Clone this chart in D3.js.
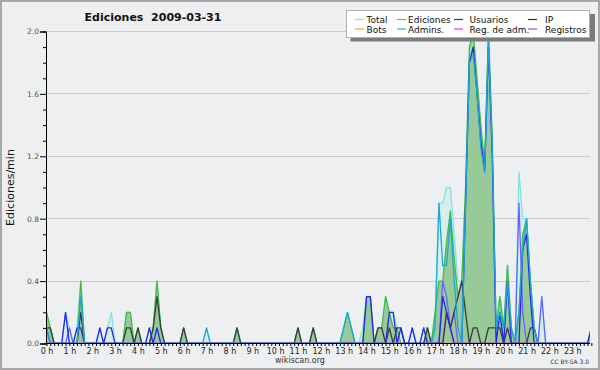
<!DOCTYPE html>
<html><head><meta charset="utf-8">
<script src="https://cdn.jsdelivr.net/npm/d3@7"></script>
<style>
html,body{margin:0;padding:0;background:#eeeff1;}
svg{display:block;font-family:"DejaVu Sans",sans-serif;}
</style></head><body>
<svg id="c" width="600" height="370"></svg>
<script>
// ---- data: one value per 10 minutes (6 per hour), edits per minute ----
const hourLabels = d3.range(24).map(h => h + " h");
const yTicks = [0, 0.4, 0.8, 1.2, 1.6, 2.0];

const total = [
 .2,.1,0,0,0,.2,   .1,0,.1,.4,0,0,   0,0,.1,0,.1,.2,   0,0,0,.2,.2,0,
 .1,0,0,.1,.1,.4,  .1,0,0,0,0,0,     .1,0,0,0,0,0,     .1,0,0,0,0,0,
 0,0,.1,0,0,0,     0,0,0,0,0,0,      0,0,0,0,0,0,      .1,0,0,0,.1,0,
 0,0,0,0,0,0,      .1,.2,.1,0,0,.1,  .3,.3,0,.1,.1,.3, .2,.2,.1,.1,0,0,
 .1,0,0,.1,.1,0,   .2,.9,.9,1.0,1.0,.7, .4,.4,1.0,1.85,1.95,1.65, 1.35,1.1,2.0,1.3,.1,.3,
 .1,.5,.1,0,1.1,.8, .8,.4,.1,0,.3,0, 0,0,0,0,0,0,      0,0,0,0,0,.1];

const ediciones = [
 .2,.1,0,0,0,0,    0,0,0,.4,0,0,     0,0,0,0,0,0,      0,0,0,.2,.2,0,
 .1,0,0,0,.1,.4,   .1,0,0,0,0,0,     .1,0,0,0,0,0,     0,0,0,0,0,0,
 0,0,.1,0,0,0,     0,0,0,0,0,0,      0,0,0,0,0,0,      .1,0,0,0,.1,0,
 0,0,0,0,0,0,      .1,.2,.1,0,0,0,   .3,.3,0,.1,.1,.3, .2,.1,.1,0,0,0,
 0,0,0,0,.1,0,     .2,.4,.4,.65,.85,.55, .3,.4,1.0,1.9,2.0,1.7, 1.4,1.15,2.0,1.3,.1,.3,
 .1,.5,.1,0,.2,.7, .8,.4,.1,0,0,0,   0,0,0,0,0,0,      0,0,0,0,0,.1];

const usuarios = [
 .1,0,0,0,0,.2,    0,0,.1,.1,0,0,    0,0,.1,0,.1,.1,   0,0,0,0,0,0,
 0,0,0,.1,0,.1,    0,0,0,0,0,0,      0,0,0,0,0,0,      0,0,0,0,0,0,
 0,0,0,0,0,0,      0,0,0,0,0,0,      0,0,0,0,0,0,      0,0,0,0,0,0,
 0,0,0,0,0,0,      0,0,0,0,0,0,      .3,.3,0,0,0,0,    .2,.2,0,.1,0,0,
 .1,0,0,.1,0,0,    0,0,.3,.2,.1,0,   0,0,.9,1.8,1.9,1.6, 1.3,1.1,1.9,1.2,0,.2,
 0,.4,0,0,0,.6,    .7,.3,0,0,0,0,    0,0,0,0,0,0,      0,0,0,0,0,.1];

const ip = [
 .1,.1,0,0,0,0,    0,0,0,.2,0,0,     0,0,0,0,0,0,      0,0,0,.1,.1,0,
 .1,0,0,0,.1,.3,   .1,0,0,0,0,0,     .1,0,0,0,0,0,     0,0,0,0,0,0,
 0,0,.1,0,0,0,     0,0,0,0,0,0,      0,0,0,0,0,0,      .1,0,0,0,.1,0,
 0,0,0,0,0,0,      0,0,0,0,0,0,      0,0,0,.1,.1,0,    .1,0,.1,.1,0,0,
 0,0,0,0,.1,0,     0,0,0,.2,.1,.2,   .3,.4,.2,0,.1,.1, 0,0,.1,.1,.1,.1,
 0,.1,0,0,0,0,     0,.1,.1,0,0,0,    0,0,0,0,0,0,      0,0,0,0,0,0];

const bots = new Array(144).fill(0);

const admins = [
 .1,0,0,0,0,0,     0,0,0,.3,0,0,     0,0,0,0,0,0,      0,0,0,0,0,0,
 0,0,0,0,0,0,      0,0,0,0,0,0,      0,0,0,0,0,0,      .1,0,0,0,0,0,
 0,0,0,0,0,0,      0,0,0,0,0,0,      0,0,0,0,0,0,      0,0,0,0,0,0,
 0,0,0,0,0,0,      .1,.2,.1,0,0,0,   0,0,0,0,0,0,      0,0,0,0,0,0,
 0,0,0,0,0,0,      .1,.9,.5,.5,.8,.4, .1,0,.9,1.8,1.85,1.6, 1.25,1.1,1.95,1.25,.1,.2,
 .1,.4,.1,0,.2,.6, .8,.4,.1,0,0,0,   0,0,0,0,0,0,      0,0,0,0,0,0];

const regAdm = [
 0,0,0,0,0,0, 0,0,0,0,0,0, 0,0,0,0,0,0, 0,0,0,0,0,0,
 0,0,0,0,0,0, 0,0,0,0,0,0, 0,0,0,0,0,0, 0,0,0,0,0,0,
 0,0,0,0,0,0, 0,0,0,0,0,0, 0,0,0,0,0,0, 0,0,0,0,0,0,
 0,0,0,0,0,0, 0,0,0,0,0,0, 0,0,0,0,0,0, 0,0,0,0,0,0,
 0,0,0,0,0,0, 0,0,0,.2,.1,0, 0,0,0,0,0,0, 0,0,0,0,0,0,
 0,0,0,0,0,0, 0,0,0,0,0,0, 0,0,0,0,0,0, 0,0,0,0,0,0];

const registros = [
 0,0,0,0,0,0, .1,0,0,0,0,0, 0,0,0,0,0,0, 0,0,0,0,0,0,
 0,0,0,0,0,0, 0,0,0,0,0,0, 0,0,0,0,0,0, 0,0,0,0,0,0,
 0,0,0,0,0,0, 0,0,0,0,0,0, 0,0,0,0,0,0, 0,0,0,0,0,0,
 0,0,0,0,0,0, 0,0,0,0,0,0, 0,0,0,0,0,0, 0,0,0,0,0,0,
 0,0,0,0,0,0, 0,0,.4,.3,.1,.2, 0,0,0,0,0,0, 0,0,0,0,0,0,
 0,0,0,0,.9,.2, 0,0,0,0,.3,0, 0,0,0,0,0,0, 0,0,0,0,0,0];

const legendItems = [
 {name:"Total", color:"#86e2e2"}, {name:"Ediciones", color:"#55c455"},
 {name:"Usuarios", color:"#2424ee"}, {name:"IP", color:"#333333"},
 {name:"Bots", color:"#ffa41c"}, {name:"Admins.", color:"#22b4e0"},
 {name:"Reg. de adm.", color:"#d040f0"}, {name:"Registros", color:"#6a62ff"}
];

// ---- drawing ----
const svg = d3.select("#c");
svg.append("rect").attr("x",1).attr("y",1).attr("width",598).attr("height",368)
  .attr("fill","#eeeff1").attr("stroke","#a8a8a8").attr("stroke-width",2);

const x = d3.scaleLinear().domain([0,143]).range([46.5, 46.5 + 3.81*143]);
const y = d3.scaleLinear().domain([0,2]).range([343.5, 31.5]);
const left = 46, right = 590;

// grid
svg.append("g").selectAll("line").data(yTicks.filter(d=>d>0)).join("line")
  .attr("x1",left).attr("x2",right)
  .attr("y1",d=>Math.round(y(d)-0.5)+0.5).attr("y2",d=>Math.round(y(d)-0.5)+0.5)
  .attr("stroke","#cdcdcd").attr("stroke-width",1);

svg.append("clipPath").attr("id","plot").append("rect")
  .attr("x",left).attr("y",28).attr("width",right-left).attr("height",343-28);

const g = svg.append("g").attr("clip-path","url(#plot)");
const idx = d3.range(144);
const area = arr => d3.area().x(i=>x(i)).y0(y(0)).y1(i=>y(arr[i]))(idx);
const line = arr => d3.line().x(i=>x(i)).y(i=>y(arr[i]))(idx);

g.append("path").attr("d",area(total)).attr("fill","#d6efec");
g.append("path").attr("d",area(ediciones)).attr("fill","#98ca98");

const series = [
 [total,"#86e2e2"], [ediciones,"#44bb44"], [bots,"#ffa41c"],
 [registros,"#6a62ff"], [regAdm,"#d040f0"], [ip,"#3a3a3a"],
 [usuarios,"#2424ee"], [admins,"#1ea6da"]
];
series.forEach(([arr,c]) => {
  g.append("path").attr("d",line(arr)).attr("fill","none")
   .attr("stroke",c).attr("stroke-width",1.3).attr("stroke-linejoin","round");
});

// axes
const yAxis = svg.append("g").attr("transform","translate(46,0)");
yAxis.call(d3.axisLeft(y).tickValues(d3.range(0,21).map(d=>d/10).filter(d=>Math.round(d*10)%4!==0))
  .tickSize(3).tickFormat(""));
yAxis.append("g").call(d3.axisLeft(y).tickValues(yTicks).tickSize(6).tickPadding(1).tickFormat(d3.format(".1f")));
yAxis.selectAll("text").attr("font-size",7.5).attr("fill","#555").attr("font-family","DejaVu Sans");
yAxis.selectAll(".domain").attr("stroke","#000");

const xAxis = svg.append("g").attr("transform","translate(0,343)");
xAxis.call(d3.axisBottom(x).tickValues(idx.filter(i=>i%6!==0)).tickSize(3).tickFormat(""));
xAxis.append("g").call(d3.axisBottom(x).tickValues(d3.range(0,144,6)).tickSize(3).tickPadding(2)
  .tickFormat(i=>hourLabels[i/6]));
xAxis.selectAll(".domain").attr("d","M46,0.5H590").attr("stroke","#000");
xAxis.selectAll("text").attr("font-size",8).attr("fill","#222").attr("font-family","DejaVu Sans");

// title & labels
svg.append("text").attr("x",153).attr("y",21).attr("text-anchor","middle")
  .attr("font-size",11).attr("font-weight","bold").attr("fill","#111")
  .style("white-space","pre").text("Ediciones  2009-03-31");
svg.append("text").attr("transform","translate(14,187.5) rotate(-90)")
  .attr("text-anchor","middle").attr("font-size",11).attr("fill","#111").text("Ediciones/min");
svg.append("text").attr("x",300).attr("y",363).attr("text-anchor","middle")
  .attr("font-size",8).attr("fill","#333").text("wikiscan.org");
svg.append("text").attr("x",589).attr("y",364).attr("text-anchor","end")
  .attr("font-size",6).attr("fill","#333").text("CC BY-SA 3.0");

// legend
const lg = svg.append("g");
lg.append("rect").attr("x",350.5).attr("y",14).attr("width",244.5).attr("height",27.5).attr("fill","#7c7c7c");
lg.append("rect").attr("x",346.5).attr("y",10.5).attr("width",243).attr("height",27)
  .attr("fill","#fff").attr("stroke","#b0b0b0");
const colX = [355, 397, 454, 528], textX = [366.5, 408, 469.5, 545];
legendItems.forEach((d,k) => {
  const c = k%4, r = Math.floor(k/4);
  const ly = r ? 29 : 19.5;
  lg.append("line").attr("x1",colX[c]).attr("x2",colX[c]+9).attr("y1",ly).attr("y2",ly)
    .attr("stroke",d.color).attr("stroke-width",1.2);
  lg.append("text").attr("x",textX[c]).attr("y",r ? 32.5 : 23).attr("font-size",9)
    .attr("fill","#111").text(d.name);
});
</script>
</body></html>
